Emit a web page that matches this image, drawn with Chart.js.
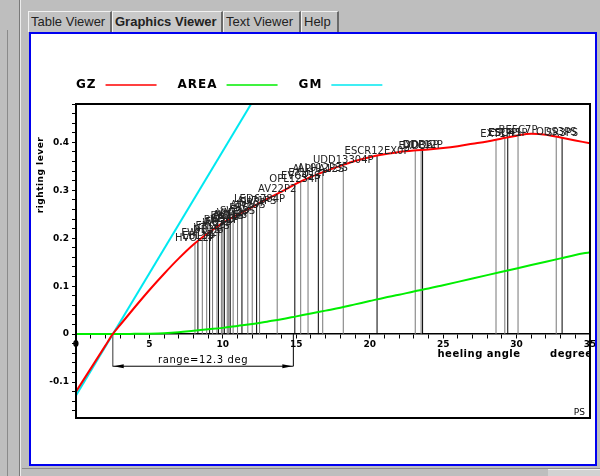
<!DOCTYPE html>
<html lang="en">
<head>
<meta charset="UTF-8">
<title>GZ curve - Graphics Viewer</title>
<script src="https://cdn.jsdelivr.net/npm/chart.js"></script>
<style>
  body { margin: 0; width: 600px; height: 476px; background: #bebebe; overflow: hidden; position: relative; font-family: "Liberation Sans", Arial, sans-serif; }
  .side1 { position: absolute; left: 7px; top: 30px; width: 1px; height: 446px; background: #8a8a8a; }
  .side2 { position: absolute; left: 19px; top: 0; width: 1px; height: 476px; background: #7a7a7a; border-right: 1px solid #ececec; }
  .tabs { position: absolute; left: 28px; top: 11px; height: 21px; }
  .tab {
    position: absolute; top: 0; height: 21px; line-height: 20px; font-size: 13px; color: #222;
    border-left: 1px solid #f2f2f2; border-top: 1px solid #f2f2f2; border-right: 2px solid #6a6a6a;
    box-sizing: border-box; padding-left: 2px; background: #c2c2c2; white-space: nowrap;
  }
  .tab.on { font-weight: bold; background: #c9c9c9; }
  #panel { position: absolute; left: 29px; top: 32px; width: 564px; height: 430px; border: 2px solid #0000f0; background: #fff; }
  canvas { display: block; }
  .bottom { position: absolute; left: 22px; top: 468px; width: 578px; height: 1px; background: #8c8c8c; }
  .btn { position: absolute; left: 548px; top: 469px; width: 52px; height: 7px; background: #d2d2d2; border-top: 1px solid #f2f2f2; }
</style>
</head>
<body>
  <div class="side1"></div>
  <div class="side2"></div>
  <div class="tabs">
    <div class="tab" style="left:0;width:84px">Table Viewer</div>
    <div class="tab on" style="left:84px;width:111px">Graphics Viewer</div>
    <div class="tab" style="left:195px;width:78px">Text Viewer</div>
    <div class="tab" style="left:273px;width:38px">Help</div>
  </div>
  <div id="panel"><canvas id="gzChart" width="564" height="430"></canvas></div>
  <div class="bottom"></div>
  <div class="btn"></div>

  <script>
    // heel angle (deg) and righting lever GZ (m)
    const angles = [0, 1, 2, 2.5, 3, 4, 5, 6, 7, 8, 9, 10, 11, 12, 13, 14, 15, 16, 17, 18, 19, 20,
                    21, 22, 23, 24, 25, 26, 27, 28, 29, 30, 31, 32, 33, 34, 35];
    const gzValues = [-0.12, -0.072, -0.024, 0, 0.019, 0.056, 0.092, 0.126, 0.158, 0.187, 0.211, 0.232,
                      0.249, 0.265, 0.282, 0.297, 0.314, 0.328, 0.340, 0.351, 0.361, 0.369, 0.375, 0.380,
                      0.383, 0.385, 0.388, 0.392, 0.397, 0.402, 0.408, 0.414, 0.418, 0.416, 0.410, 0.404, 0.398];
    // area under GZ (m-rad)
    const areaValues = [0, 0, 0, 0, 0, 0.0005, 0.001, 0.002, 0.004, 0.007, 0.010, 0.013, 0.017, 0.021,
                        0.026, 0.031, 0.037, 0.043, 0.049, 0.055, 0.062, 0.069, 0.076, 0.082, 0.089, 0.095,
                        0.102, 0.109, 0.116, 0.123, 0.130, 0.137, 0.144, 0.151, 0.158, 0.165, 0.171];
    // GM tangent line
    const gmAngles = [0, 14];
    const gmValues = [-0.128, 0.586];

    // flooding points: angle, GZ at that angle, name
    const markAngles = [8.1, 8.3, 8.6, 8.9, 9.1, 9.3, 9.6, 9.7, 9.9, 10.0, 10.1, 10.3, 10.4, 10.5, 10.7,
                        11.0, 11.3, 11.7, 12.0, 12.3, 12.5, 13.7, 14.9, 15.3, 15.8, 16.5, 16.8, 18.2,
                        20.5, 23.1, 23.5, 23.6, 28.6, 29.2, 29.4, 30.1, 32.7, 33.1];
    const markTops = [0.19, 0.195, 0.20, 0.207, 0.211, 0.215, 0.221, 0.223, 0.227, 0.229, 0.231, 0.235,
                      0.237, 0.239, 0.242, 0.247, 0.252, 0.258, 0.263, 0.268, 0.272, 0.292, 0.313, 0.319,
                      0.325, 0.333, 0.337, 0.352, 0.372, 0.383, 0.384, 0.384, 0.406, 0.409, 0.41, 0.415,
                      0.411, 0.409];
    const markNames = ["HVOL2P", "EBL1S", "FWD12P", "DB3S", "VT14P", "ENG2S", "WB7P", "FO3S", "BW21P",
                       "SL9S", "CR4P", "DK11S", "AV18P", "AUX5S", "VNT2P", "SW33S", "PR6P", "AW29S",
                       "GR3P", "AU71PS", "LED6784P", "AV22P2", "OPL1234P", "EVC45S", "EXH12P",
                       "ALPHA12S", "AL012P3S", "UDD13304P", "ESCR12EX0P", "EXD3P", "DDD6P", "DDP12P",
                       "EXT1P", "ESC4S", "ESCH1P", "BE5C7P", "ODS3PS", "SR3PS"];

    // range of positive stability
    const rangeFrom = 2.5;
    const rangeTo = 14.8;
    const rangeLevel = -0.067;
    const rangeText = "range=12.3 deg";

    const xTicks = [];
    for (let i = 0; i <= 35; i++) xTicks.push(i);
    const yTicks = [];
    for (let i = -8; i <= 24; i++) yTicks.push(i / 50);

    const pts = (xs, ys) => xs.map((x, i) => ({ x, y: ys[i] }));

    const markData = [];
    markAngles.forEach((a, i) => {
      markData.push({ x: a, y: 0 }, { x: a, y: markTops[i] }, { x: a, y: null });
    });

    const overlay = {
      id: 'overlay',
      afterDatasetsDraw(chart) {
        const ctx = chart.ctx;
        const area = chart.chartArea;
        const xs = chart.scales.x, ys = chart.scales.y;
        ctx.save();

        // flooding point names
        ctx.font = '10px "DejaVu Sans"';
        ctx.fillStyle = '#222';
        ctx.textAlign = 'center';
        ctx.textBaseline = 'alphabetic';
        markAngles.forEach((a, i) => {
          ctx.fillText(markNames[i], xs.getPixelForValue(a), ys.getPixelForValue(markTops[i]) - 2);
        });

        // range arrows + text
        const x1 = xs.getPixelForValue(rangeFrom), x2 = xs.getPixelForValue(rangeTo);
        const yr = ys.getPixelForValue(rangeLevel);
        ctx.fillStyle = '#000';
        ctx.beginPath();
        ctx.moveTo(x1 + 1, yr); ctx.lineTo(x1 + 11, yr - 2); ctx.lineTo(x1 + 11, yr + 2); ctx.closePath();
        ctx.moveTo(x2 - 1, yr); ctx.lineTo(x2 - 11, yr - 2); ctx.lineTo(x2 - 11, yr + 2); ctx.closePath();
        ctx.fill();
        ctx.font = '10px "DejaVu Sans"';
        ctx.letterSpacing = '0.6px';
        ctx.fillText(rangeText, (x1 + x2) / 2, yr - 3);

        // axis texts
        ctx.font = 'bold 10px "DejaVu Sans"';
        ctx.letterSpacing = '0.5px';
        ctx.textBaseline = 'middle';
        ctx.fillText('heeling angle', area.left + 403, ys.getPixelForValue(0) + 20);
        ctx.save();
        ctx.beginPath();
        ctx.rect(area.left, area.top, area.right - area.left + 1, area.bottom - area.top);
        ctx.clip();
        ctx.textAlign = 'left';
        ctx.fillText('degrees', area.left + 474, ys.getPixelForValue(0) + 20);
        ctx.restore();

        ctx.save();
        ctx.translate(10, 141);
        ctx.rotate(-Math.PI / 2);
        ctx.font = 'bold 9px "DejaVu Sans"';
        ctx.fillText('righting lever', 0, 0);
        ctx.restore();

        ctx.letterSpacing = '0px';
        ctx.font = '9px "DejaVu Sans"';
        ctx.textAlign = 'right';
        ctx.textBaseline = 'alphabetic';
        ctx.fillText('PS', area.right - 5, area.bottom - 3);

        // frame
        ctx.strokeStyle = '#000';
        ctx.lineWidth = 2;
        ctx.strokeRect(area.left, area.top, area.right - area.left, area.bottom - area.top);

        // legend: name then line sample
        ctx.font = 'bold 12px "DejaVu Sans"';
        ctx.letterSpacing = '1px';
        ctx.textAlign = 'left';
        ctx.textBaseline = 'middle';
        let x = area.left;
        const ly = area.top - 19;
        chart.data.datasets.filter(d => d.inLegend).forEach(d => {
          ctx.fillStyle = '#000';
          ctx.fillText(d.label, x, ly);
          x += ctx.measureText(d.label).width + 9;
          ctx.strokeStyle = d.borderColor;
          ctx.lineWidth = 1.5;
          ctx.beginPath();
          ctx.moveTo(x, ly); ctx.lineTo(x + 51, ly);
          ctx.stroke();
          x += 51 + 21;
        });
        ctx.restore();
      }
    };

    new Chart(document.getElementById('gzChart'), {
      type: 'line',
      data: {
        datasets: [
          { label: 'GZ', inLegend: true, data: pts(angles, gzValues), borderColor: '#ff0000', borderWidth: 2, cubicInterpolationMode: 'monotone' },
          { label: 'AREA', inLegend: true, data: pts(angles, areaValues), borderColor: '#00ee00', borderWidth: 2, cubicInterpolationMode: 'monotone' },
          { label: 'GM', inLegend: true, data: pts(gmAngles, gmValues), borderColor: '#00e8f0', borderWidth: 2 },
          {
            label: 'marks', data: markData, borderWidth: 1, spanGaps: false, borderColor: '#777',
            segment: { borderColor: c => (Math.floor(c.p0DataIndex / 3) % 3 === 1 ? '#000' : '#777') }
          },
          {
            label: 'range',
            data: [{ x: rangeFrom, y: 0 }, { x: rangeFrom, y: rangeLevel }, { x: rangeTo, y: rangeLevel }, { x: rangeTo, y: 0 }],
            borderWidth: 1, borderColor: '#000',
            segment: { borderColor: c => (c.p0DataIndex === 0 ? '#777' : '#000') }
          }
        ]
      },
      options: {
        responsive: false,
        animation: false,
        events: [],
        elements: { point: { radius: 0 } },
        layout: { padding: { left: 15, top: 70, right: 5, bottom: 46 } },
        plugins: { legend: { display: false }, tooltip: { enabled: false } },
        scales: {
          x: {
            type: 'linear', position: { y: 0 }, min: 0, max: 35,
            afterBuildTicks: s => { s.ticks = xTicks.map(v => ({ value: v })); },
            afterFit: s => { s.height = 0; s.paddingLeft = 0; s.paddingRight = 0; },
            grid: { drawOnChartArea: false, tickLength: 4, color: '#000' },
            border: { color: '#000', width: 1.5 },
            ticks: {
              autoSkip: false, maxRotation: 0, padding: 1, color: '#000',
              font: { family: 'DejaVu Sans', size: 9, weight: 'bold' },
              callback: v => (v % 5 === 0 ? String(v) : '')
            }
          },
          y: {
            type: 'linear', position: 'left', min: -0.175, max: 0.48,
            afterBuildTicks: s => { s.ticks = yTicks.map(v => ({ value: v })); },
            afterFit: s => { s.width = 30; s.paddingTop = 0; s.paddingBottom = 0; },
            grid: { drawOnChartArea: false, tickLength: 4, color: '#000' },
            border: { color: '#000', width: 2 },
            ticks: {
              autoSkip: false, padding: 3, color: '#000',
              font: { family: 'DejaVu Sans', size: 9, weight: 'bold' },
              callback: v => {
                const k = Math.round(v * 100);
                if (k % 10 !== 0 || k > 40) return '';
                return k === 0 ? '0' : (k / 100).toFixed(1);
              }
            }
          }
        }
      },
      plugins: [overlay]
    });
  </script>
</body>
</html>
